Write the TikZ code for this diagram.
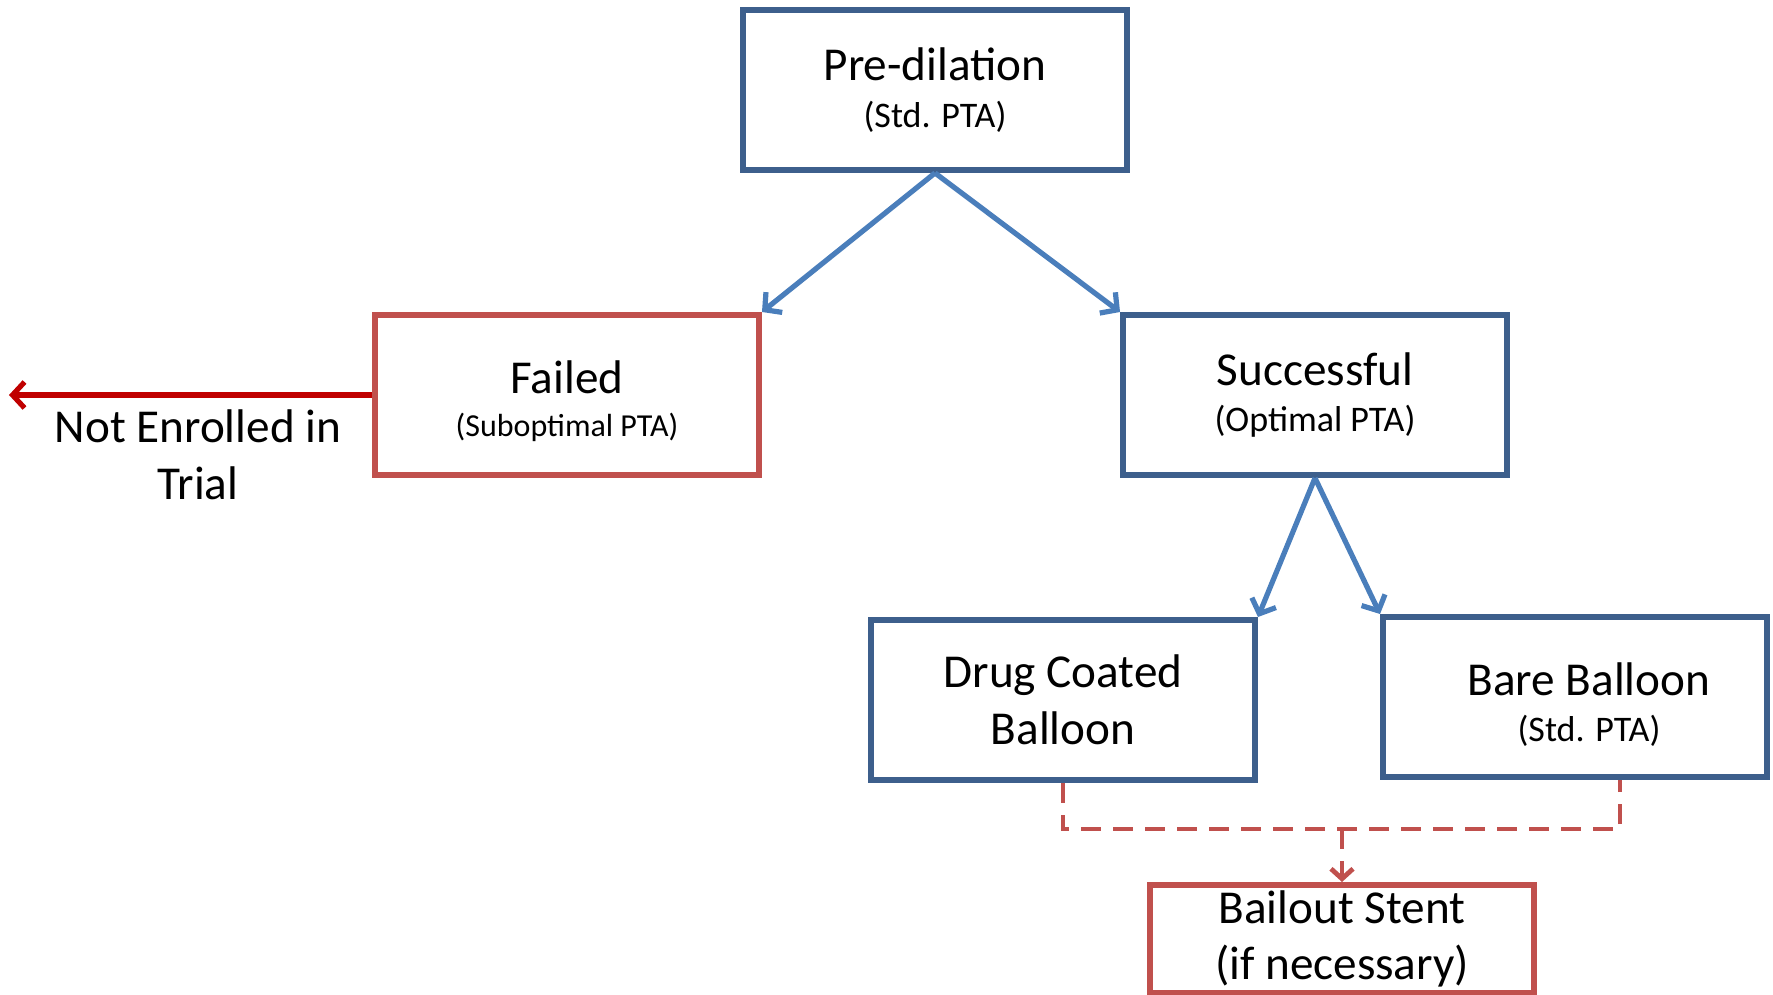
\documentclass[tikz,border=0pt]{standalone}
\usepackage{fontspec}
\setmainfont{Carlito}
\usetikzlibrary{arrows.meta}

\definecolor{boxblue}{HTML}{3D5F8C}
\definecolor{arrowblue}{HTML}{4A7EBB}
\definecolor{boxred}{HTML}{C0504D}
\definecolor{cutred}{HTML}{C00000}

\newcommand{\bigtext}{\fontsize{23.6}{28.3}\selectfont}
\newcommand{\smalltext}{\fontsize{18}{21}\selectfont}
\newcommand{\subline}[1]{\\[-5pt]{\smalltext #1}}

\tikzset{
  box/.style={draw,line width=3pt,minimum width=192pt,minimum height=80pt,
    align=center,inner sep=0pt,font=\bigtext},
  bluebox/.style={box,draw=boxblue},
  redbox/.style={box,draw=boxred},
  flow/.style={->,line width=2.6pt,draw=arrowblue},
  dashline/.style={line width=2.4pt,draw=boxred,dash pattern=on 10pt off 6pt},
}

\begin{document}
\begin{tikzpicture}[x=0.5pt,y=-0.5pt,>={Straight Barb[length=6pt,width=13pt]}]
\useasboundingbox (0,0) rectangle (1773,995);
\node[bluebox] (pre) at (935,90) {Pre-dilation\subline{(Std. PTA)}};
\node[redbox] (failed) at (567,395) {\rule{0pt}{23pt}Failed\\[-6.8pt]{\fontsize{16}{19}\selectfont (Suboptimal PTA)}};
\node[bluebox] (succ) at (1315,395) {Successful\subline{(Optimal PTA)}};
\node[bluebox] (drug) at (1063,700) {Drug Coated\\Balloon};
\node[bluebox] (bare) at (1575,697) {\rule{0pt}{24pt}\hspace*{14pt}Bare Balloon\subline{\hspace*{14pt}(Std. PTA)}};
\node[redbox,minimum height=54pt] (bail) at (1342,939) {Bailout Stent\\(if necessary)};
\node[align=center,font=\bigtext] (notin) at (198,455) {Not Enrolled in\\Trial};
\coordinate (out) at (9,395);
\coordinate (join) at (1342,829);

\draw[flow] (pre.south) -- (failed.north east);
\draw[flow] (pre.south) -- (succ.north west);
\draw[flow] (succ.south) -- (drug.north east);
\draw[flow] (succ.south) -- (bare.north west);
\draw[->,line width=2.6pt,draw=cutred] (failed.west) -- (out);
\draw[dashline] (drug.south) |- (join) -| ([xshift=22.5pt]bare.south);
\draw[dashline,->,>={Straight Barb[length=5pt,width=11pt]}] (join) -- (bail.north);
\end{tikzpicture}
\end{document}
